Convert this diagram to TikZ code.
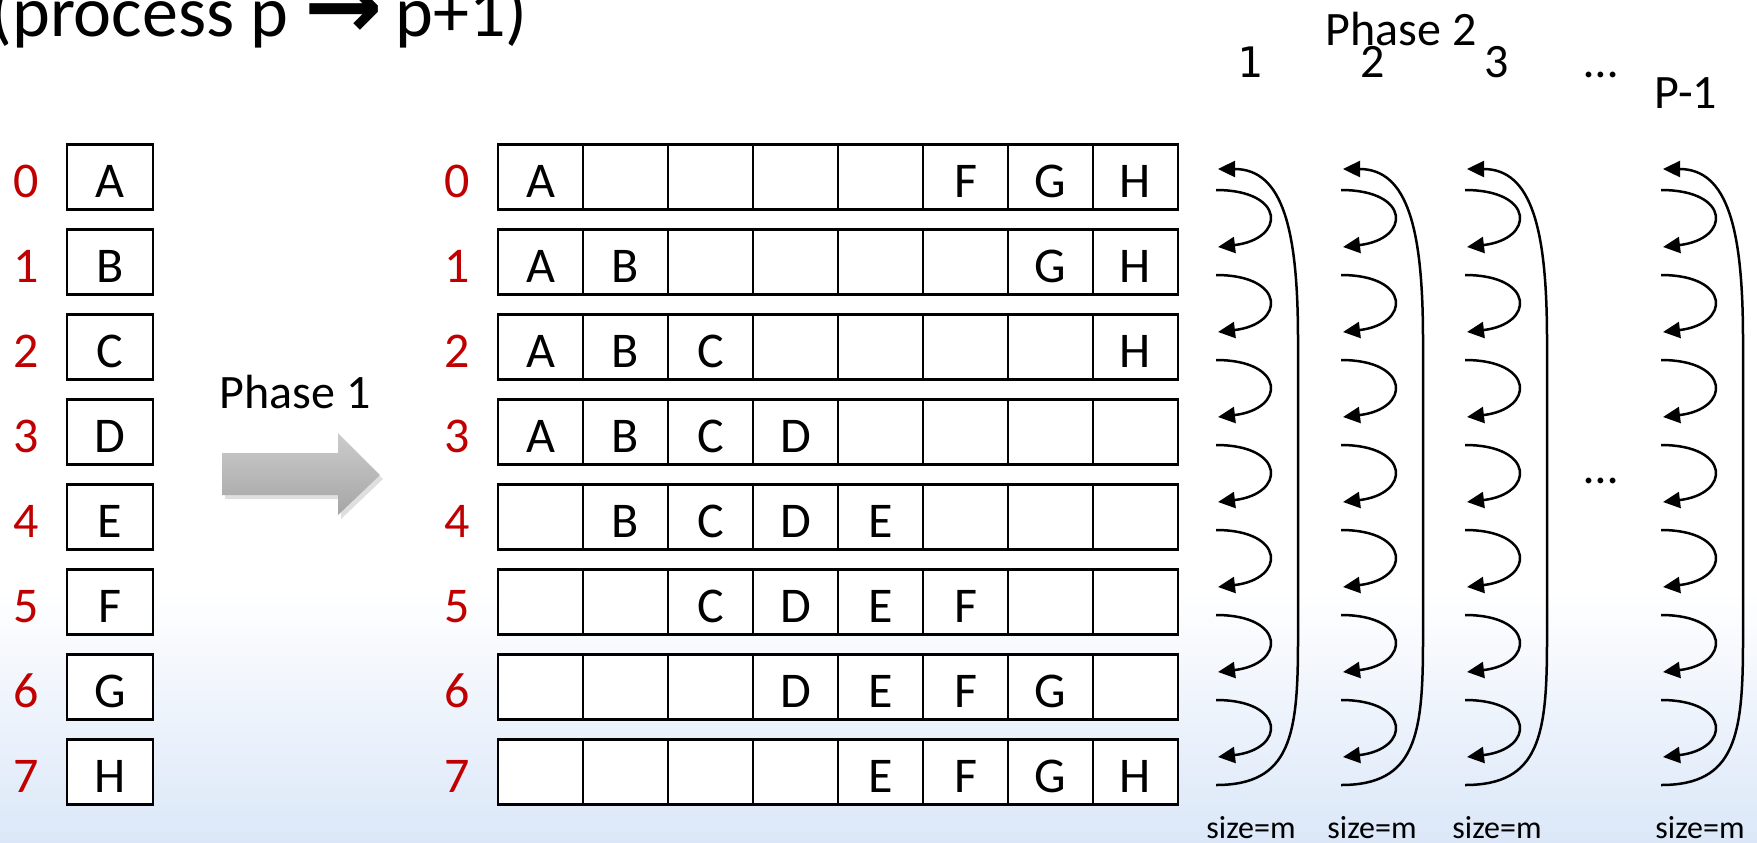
\documentclass[tikz,border=0pt]{standalone}
\usepackage{fontspec}
\setmainfont{Carlito}
\newfontfamily\arrowfam{DejaVu Sans}
\newfontfamily\monofam{DejaVu Sans Mono}
\usetikzlibrary{arrows.meta,shadows}
\definecolor{numred}{RGB}{192,0,0}
\definecolor{bgblue}{RGB}{219,231,248}
\definecolor{arrowtop}{RGB}{204,204,204}
\definecolor{arrowbot}{RGB}{165,165,165}
\newcommand\colletter[1]{\ifcase#1 A\or B\or C\or D\or E\or F\or G\or H\fi}
\begin{document}
\begin{tikzpicture}[x=0.5pt,y=-0.5pt,
  cellbox/.style={draw=black, line width=1.3pt, fill=white, minimum width=42.5pt,
    minimum height=32.25pt, inner sep=0pt, outer sep=0pt, text height=20pt, text depth=0pt,
    font=\fontsize{25pt}{30pt}\selectfont},
  onebox/.style={cellbox, minimum width=43pt},
  numlab/.style={anchor=base, inner sep=0pt, text=numred, font=\fontsize{25pt}{30pt}\selectfont},
  biglab/.style={anchor=base, inner sep=0pt, font=\fontsize{24pt}{28pt}\selectfont},
  sizelab/.style={anchor=base, inner sep=0pt, font=\fontsize{16pt}{19pt}\selectfont},
  looparrow/.style={line width=1.25pt, -{Triangle[length=8.5pt,width=8pt]}}
]
\useasboundingbox (0,0) rectangle (1757,842);
\clip (0,0) rectangle (1757,842);
% background
\fill[white] (0,0) rectangle (1757,842);
\shade[top color=white, bottom color=bgblue] (0,590) rectangle (1757,842.5);

% title
\node[anchor=base west, inner sep=0pt, font=\fontsize{36pt}{40pt}\selectfont] (title) at (-10,36)
  {(process p {\arrowfam\bfseries\raisebox{-1pt}{\scalebox{1.3}[1.3]{→}}}\,p+1)};

% left column
\foreach \r/\L in {0/A,1/B,2/C,3/D,4/E,5/F,6/G,7/H} {
  \pgfmathsetmacro\yc{177+85*\r}
  \node[numlab] (ln\r) at (26,{\yc+20.5}) {\r};
  \node[onebox] (lb\r) at (110,\yc) {\L};
}

% phase 1 arrow
\node[biglab] (ph1) at (295,408) {Phase 1};
\path[top color=arrowtop, bottom color=arrowbot,
  drop shadow={opacity=0.25, shadow xshift=1.5pt, shadow yshift=-2pt}]
  (222,453) -- (338,453) -- (338,433) -- (380,475) -- (338,515) -- (338,495) -- (222,495) -- cycle;

% middle grid
\foreach \r in {0,...,7} {
  \pgfmathsetmacro\yc{177+85*\r}
  \node[numlab] (mn\r) at (457,{\yc+20.5}) {\r};
  \foreach \j in {0,...,7} {
    \pgfmathparse{int(mod(\r-\j+8,8)<4)}
    \edef\cellon{\pgfmathresult}
    \node[cellbox] (g\r-\j) at ({540.5+85*\j},\yc) {\ifnum\cellon=1 \colletter{\j}\fi};
  }
}

% phase 2 labels
\node[biglab] (ph2) at (1401,45) {Phase 2};
\node[anchor=base, inner sep=0pt, font=\monofam\fontsize{21pt}{24pt}\selectfont] (pc1) at (1250,77) {1};
\node[biglab] (pc2) at (1373,77) {2};
\node[biglab] (pc3) at (1497,77) {3};
\node[biglab] (pcd) at (1601,77) {…};
\node[biglab] (pcp) at (1686,108) {P-1};
\node[biglab] (middots) at (1601,483) {…};

% curved arrows
\foreach \c/\T/\lx in {1/1218/1251,2/1343/1372,3/1467/1497,4/1663/1700} {
  \foreach \k in {0,...,6} {
    \pgfmathsetmacro\ys{177+85*\k+13}
    \pgfmathsetmacro\ye{177+85*(\k+1)-15}
    \coordinate (s\c-\k) at ({\T-2},\ys);
    \coordinate (e\c-\k) at (\T,\ye);
    \draw[looparrow] (s\c-\k) .. controls +(70,0) and +(68,-8) .. (e\c-\k);
  }
  \coordinate (bot\c) at ({\T-2},785);
  \coordinate (top\c) at (\T,169);
  \draw[looparrow] (bot\c) .. controls +(75,0) and +(0,95) .. ++(82,-145)
     -- ++(0,-300) .. controls +(0,-110) and +(65,0) .. (top\c);
  \node[sizelab] (sz\c) at (\lx,838) {size=m};
}
\end{tikzpicture}
\end{document}
